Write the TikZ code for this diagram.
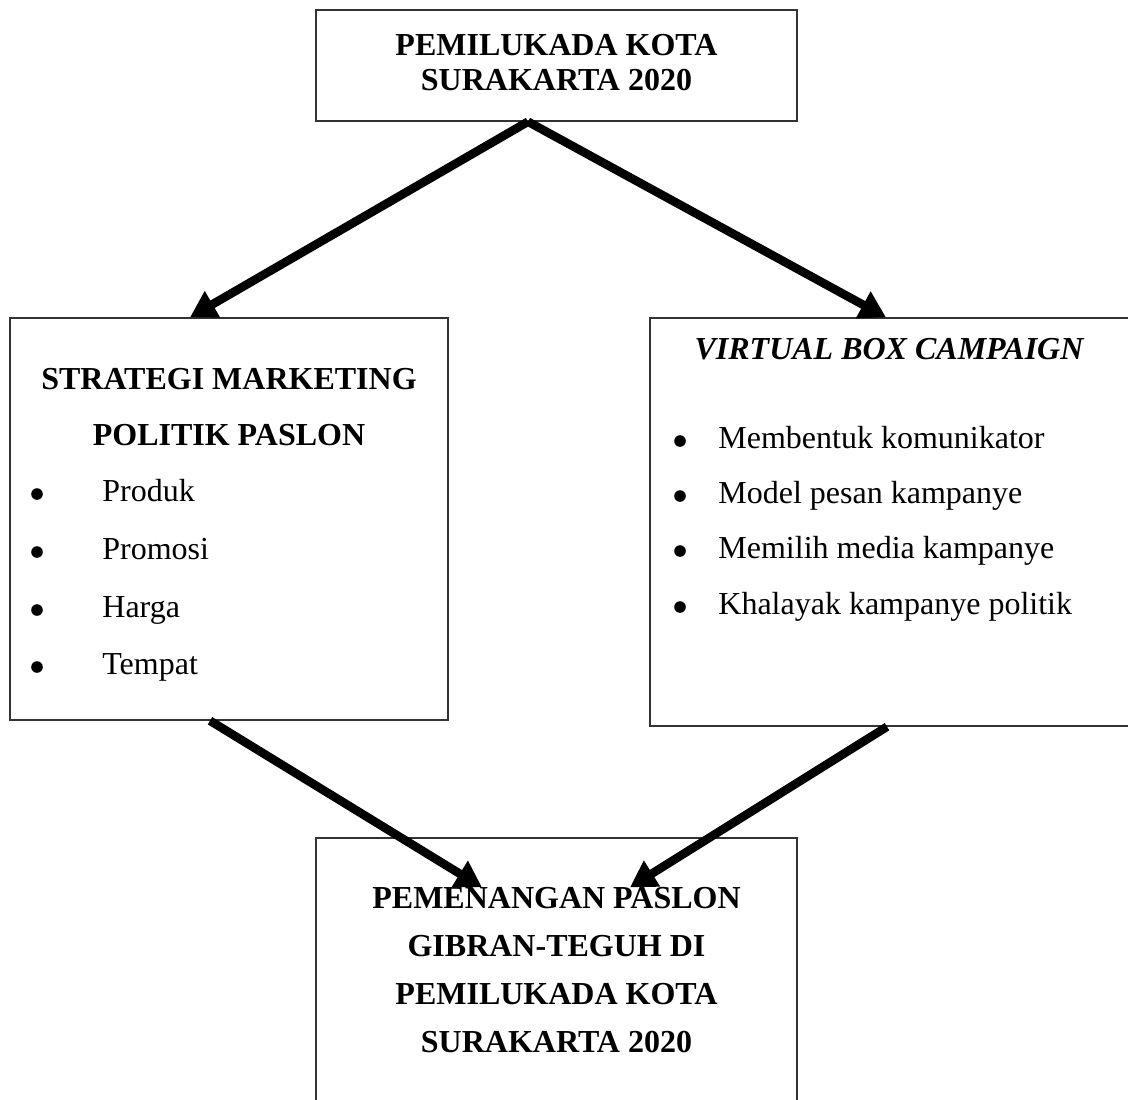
\documentclass[tikz,border=0pt]{standalone}
\usepackage{fontspec}
\setmainfont{Liberation Serif}
\usetikzlibrary{arrows.meta}
\tikzset{
    box/.style={draw=black!80, line width=0.7pt, inner sep=0pt},
    title/.style={font=\bfseries\fontsize{16}{#1}\selectfont, align=center},
    item/.style={font=\fontsize{16}{19}\selectfont, anchor=base west, inner sep=0pt},
    dot/.style={shape=circle, fill=black, minimum size=5.8pt, inner sep=0pt},
    arr/.style={line width=4.3pt, -{Triangle[width=14.5pt,length=13pt]}}}

\begin{document}
\begin{tikzpicture}[x=0.5pt, y=-0.5pt]
    \useasboundingbox (0,0) rectangle (1128,1099);

            % boxes
            \node[box, minimum width=240.5pt, minimum height=55.5pt] (top) at (556.5,65.5) {};
            \node[box, minimum width=219pt, minimum height=201pt] (lbox) at (229,519) {};
            \node[box, minimum width=242.5pt, minimum height=204pt] (rbox) at (892.5,522) {};
            \node[box, minimum width=240.5pt, minimum height=136pt] (bot) at (556.5,974) {};

            % texts
            \node[title=17.5] (toptext) at (556.5,63) {PEMILUKADA KOTA\\SURAKARTA 2020};
            \node[title=28] (ltitle) at (229,407) {STRATEGI MARKETING\\POLITIK PASLON};
            \node[title=19] (rtitle) at (889,349) {\itshape VIRTUAL BOX CAMPAIGN};
            \node[title=24] (bottext) at (556.5,970) {PEMENANGAN PASLON\\GIBRAN-TEGUH DI\\PEMILUKADA KOTA\\SURAKARTA 2020};

            \node[dot] (ld1) at (37,494) {};
            \node[dot] (ld2) at (37,552) {};
            \node[dot] (ld3) at (37,610) {};
            \node[dot] (ld4) at (37,667) {};
            \node[item] (l1) at (102,501) {Produk};
            \node[item] (l2) at (102,559) {Promosi};
            \node[item] (l3) at (102,617) {Harga};
            \node[item] (l4) at (102,674) {Tempat};

            \node[dot] (rd1) at (680,441) {};
            \node[dot] (rd2) at (680,496) {};
            \node[dot] (rd3) at (680,551) {};
            \node[dot] (rd4) at (680,607) {};
            \node[item] (r1) at (718,448) {Membentuk komunikator};
            \node[item] (r2) at (718,503) {Model pesan kampanye};
            \node[item] (r3) at (718,558) {Memilih media kampanye};
            \node[item] (r4) at (718,614) {Khalayak kampanye politik};

            % arrows
            \draw[arr] ([xshift=-14.25pt]top.south) -- ([xshift=-19.5pt]lbox.north);
            \draw[arr] ([xshift=-14.25pt]top.south) -- ([xshift=-3.25pt]rbox.north);
            \draw[arr] ([xshift=-9.5pt]lbox.south) -- ([xshift=-37.25pt,yshift=-25pt]bot.north);
            \draw[arr] ([xshift=-2.75pt]rbox.south) -- ([xshift=36.75pt,yshift=-25pt]bot.north);

\end{tikzpicture}
\end{document}
